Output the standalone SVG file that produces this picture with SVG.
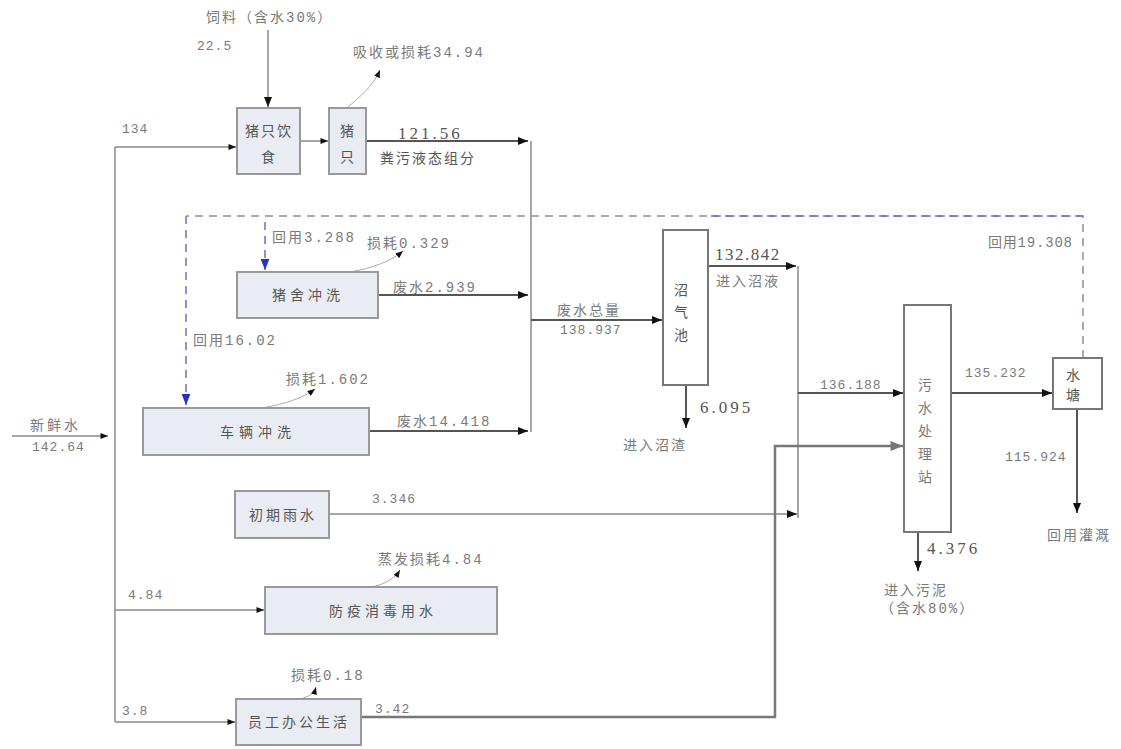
<svg xmlns="http://www.w3.org/2000/svg" width="1121" height="749" viewBox="0 0 1121 749">
<defs>
<marker id="ah" viewBox="0 0 10 8" refX="10" refY="4" markerWidth="11" markerHeight="8" markerUnits="userSpaceOnUse" orient="auto"><path d="M0,0 L10,4 L0,8 z" fill="#111"/></marker>
<marker id="ahs" viewBox="0 0 10 8" refX="10" refY="4" markerWidth="8" markerHeight="6" markerUnits="userSpaceOnUse" orient="auto"><path d="M0,0 L10,4 L0,8 z" fill="#111"/></marker>
<marker id="ahb" viewBox="0 0 10 8" refX="10" refY="4" markerWidth="11" markerHeight="9" markerUnits="userSpaceOnUse" orient="auto"><path d="M0,0 L10,4 L0,8 z" fill="#2233cc"/></marker>
<marker id="ahg" viewBox="0 0 10 8" refX="10" refY="4" markerWidth="13" markerHeight="10" markerUnits="userSpaceOnUse" orient="auto"><path d="M0,0 L10,4 L0,8 z" fill="#777"/></marker>
</defs>
<style>
text{font-family:"Liberation Mono","Noto Sans CJK SC",monospace;font-size:14px;fill:#7a7a7a;letter-spacing:2px}
.num{font-size:13px;letter-spacing:1px}
.big{font-family:"Liberation Serif","Noto Sans CJK SC",serif;font-size:17px;fill:#555;letter-spacing:3px}
.in{font-size:14px;fill:#555}
.box{fill:#e9edf3;stroke:#999;stroke-width:2}
.wbox{fill:#fff;stroke:#777;stroke-width:2}
.ln{fill:none;stroke:#888;stroke-width:1.5}
.dk{fill:none;stroke:#555;stroke-width:2}
.cv{fill:none;stroke:#aaa;stroke-width:1}
.dash{fill:none;stroke:#8a8fb0;stroke-width:1.5;stroke-dasharray:8,6}
.dashb{fill:none;stroke:#6a70c8;stroke-width:1.5;stroke-dasharray:8,6}
.ctr{text-anchor:middle}
</style>
<rect width="1121" height="749" fill="#fff"/>
<g id="connectors">
<line class="ln" x1="12" y1="436" x2="108" y2="436" marker-end="url(#ahs)"/>
<line class="ln" x1="115" y1="147" x2="115" y2="722"/>
<line class="ln" x1="115" y1="147" x2="236" y2="147" marker-end="url(#ahs)"/>
<line class="ln" x1="115" y1="610" x2="264" y2="610" marker-end="url(#ahs)"/>
<line class="ln" x1="115" y1="722" x2="235" y2="722" marker-end="url(#ahs)"/>
<line class="ln" x1="268" y1="30" x2="268" y2="107" marker-end="url(#ah)"/>
<line class="ln" x1="300" y1="141" x2="328" y2="141" marker-end="url(#ahs)"/>
<path class="cv" d="M347,108 C360,96 372,88 380,70" marker-end="url(#ahs)"/>
<line class="dk" x1="366" y1="141" x2="528" y2="141" marker-end="url(#ah)"/>
<line class="ln" x1="531" y1="141" x2="531" y2="432"/>
<line class="dk" x1="378" y1="295" x2="528" y2="295" marker-end="url(#ah)"/>
<line class="dk" x1="369" y1="431" x2="528" y2="431" marker-end="url(#ah)"/>
<path class="cv" d="M350,272 C372,268 390,262 403,251" marker-end="url(#ahs)"/>
<path class="cv" d="M262,408 C285,404 303,398 315,389" marker-end="url(#ahs)"/>
<path class="cv" d="M370,587 C385,585 395,578 400,570" marker-end="url(#ahs)"/>
<path class="cv" d="M300,699 C308,697 314,694 316,687" marker-end="url(#ahs)"/>
<line class="dk" x1="531" y1="320" x2="662" y2="320" marker-end="url(#ah)"/>
<line class="dk" x1="708" y1="266" x2="796" y2="266" marker-end="url(#ah)"/>
<line class="ln" x1="798" y1="266" x2="798" y2="518"/>
<line class="dk" x1="686" y1="385" x2="686" y2="428" marker-end="url(#ah)"/>
<line class="dk" x1="798" y1="393" x2="903" y2="393" marker-end="url(#ah)"/>
<line class="ln" x1="329" y1="514" x2="797" y2="514" marker-end="url(#ah)"/>
<polyline fill="none" stroke="#777" stroke-width="2.5" points="361,717 775,717 775,446 903,446" marker-end="url(#ahg)"/>
<line class="dk" x1="951" y1="393" x2="1052" y2="393" marker-end="url(#ah)"/>
<line class="dk" x1="918" y1="532" x2="918" y2="571" marker-end="url(#ah)"/>
<line class="dk" x1="1077" y1="409" x2="1077" y2="513" marker-end="url(#ah)"/>
<polyline class="dash" points="1083,358 1083,216 186,216"/>
<line class="dashb" x1="1083" y1="216" x2="710" y2="216"/>
<line class="dashb" x1="186" y1="216" x2="186" y2="405" marker-end="url(#ahb)"/>
<line class="dashb" x1="265" y1="222" x2="265" y2="270" marker-end="url(#ahb)"/>
</g>
<g id="n_feed"><rect class="box" x="237" y="108" width="63" height="66"/><text class="in ctr" x="269" y="136">猪只饮</text><text class="in ctr" x="269" y="162">食</text></g>
<g id="n_pig"><rect class="box" x="329" y="108" width="37" height="66"/><text class="in ctr" x="348" y="136">猪</text><text class="in ctr" x="348" y="162">只</text></g>
<g id="n_house"><rect class="box" x="237" y="272" width="141" height="46"/><text class="in ctr" x="308" y="300" style="letter-spacing:4px">猪舍冲洗</text></g>
<g id="n_vehicle"><rect class="box" x="143" y="408" width="226" height="47"/><text class="in ctr" x="258" y="437" style="letter-spacing:5px">车辆冲洗</text></g>
<g id="n_rain"><rect class="box" x="235" y="491" width="94" height="47"/><text class="in ctr" x="283" y="520" style="letter-spacing:3px">初期雨水</text></g>
<g id="n_disinfect"><rect class="box" x="265" y="587" width="232" height="47"/><text class="in ctr" x="383" y="616" style="letter-spacing:4px">防疫消毒用水</text></g>
<g id="n_office"><rect class="box" x="236" y="699" width="125" height="46"/><text class="in ctr" x="299" y="727" style="letter-spacing:3px">员工办公生活</text></g>
<g id="n_biogas"><rect class="wbox" x="663" y="230" width="45" height="155"/><text class="in ctr" x="682" y="295">沼</text><text class="in ctr" x="682" y="317">气</text><text class="in ctr" x="682" y="340">池</text></g>
<g id="n_wwtp"><rect class="wbox" x="904" y="305" width="47" height="227"/><text class="ctr" x="926" y="390">污</text><text class="ctr" x="926" y="413">水</text><text class="ctr" x="926" y="436">处</text><text class="ctr" x="926" y="459">理</text><text class="ctr" x="926" y="482">站</text></g>
<g id="n_pond"><rect class="wbox" x="1053" y="358" width="49" height="51"/><text class="in ctr" x="1074" y="380">水</text><text class="in ctr" x="1074" y="400">塘</text></g>
<g id="labels">
<text x="206" y="22">饲料（含水30%）</text>
<text class="num" x="197" y="50">22.5</text>
<text x="353" y="57">吸收或损耗34.94</text>
<text class="num" x="122" y="133">134</text>
<text class="big" x="398" y="139">121.56</text>
<text class="in" x="380" y="163">粪污液态组分</text>
<text x="272" y="242">回用3.288</text>
<text x="367" y="248">损耗0.329</text>
<text x="393" y="292">废水2.939</text>
<text x="193" y="345">回用16.02</text>
<text x="286" y="384">损耗1.602</text>
<text x="397" y="426">废水14.418</text>
<text x="557" y="315">废水总量</text>
<text class="num" x="560" y="334">138.937</text>
<text class="big" x="715" y="260" style="letter-spacing:1.5px">132.842</text>
<text x="716" y="286">进入沼液</text>
<text class="big" x="700" y="413">6.095</text>
<text x="623" y="450">进入沼渣</text>
<text x="988" y="247" style="letter-spacing:0.8px">回用19.308</text>
<text class="num" x="820" y="389">136.188</text>
<text class="num" x="965" y="377">135.232</text>
<text class="num" x="1005" y="461">115.924</text>
<text x="1047" y="540">回用灌溉</text>
<text class="big" x="927" y="554">4.376</text>
<text x="884" y="595">进入污泥</text>
<text x="880" y="613">（含水80%）</text>
<text x="30" y="430" style="letter-spacing:3px">新鲜水</text>
<text class="num" x="32" y="451">142.64</text>
<text class="num" x="372" y="503">3.346</text>
<text x="378" y="564">蒸发损耗4.84</text>
<text class="num" x="128" y="599">4.84</text>
<text x="291" y="680">损耗0.18</text>
<text class="num" x="122" y="715">3.8</text>
<text class="num" x="375" y="713">3.42</text>
</g>
</svg>
